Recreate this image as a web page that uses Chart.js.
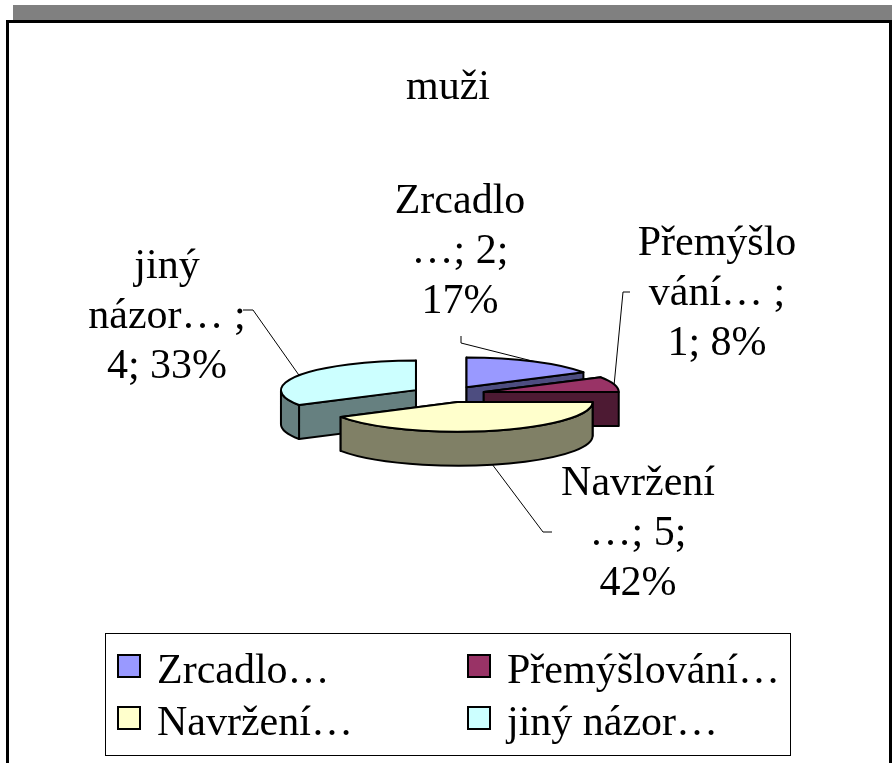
<!DOCTYPE html>
<html>
<head>
<meta charset="utf-8">
<title>muži</title>
<script src="https://cdn.jsdelivr.net/npm/chart.js@4.4.0/dist/chart.umd.min.js"></script>
<style>
  html, body { margin: 0; padding: 0; background: #fff; overflow: hidden; }
  #wrap { position: relative; width: 892px; height: 763px; }
  #shade { position: absolute; left: 13px; top: 5px; width: 879px; height: 16px; background: #808080; }
  #frame { position: absolute; left: 6px; top: 20px; width: 880px; height: 760px; border: 3px solid #000; background: #fff; }
  #chart { position: absolute; left: 0; top: 0; }
</style>
</head>
<body>
<div id="wrap">
  <div id="shade"></div>
  <div id="frame"></div>
  <canvas id="chart" width="892" height="763"></canvas>
</div>
<script>
// Data
const categories = ['Zrcadlo…', 'Přemýšlování…', 'Navržení…', 'jiný názor…'];
const counts = [2, 1, 5, 4];
const percentLabels = ['17%', '8%', '42%', '33%'];
const sliceColors = ['#9999FF', '#993366', '#FFFFCC', '#CCFFFF'];

// Data labels as Excel wrapped them
const labelLines = [
    ['Zrcadlo', '…; ' + counts[0] + ';', percentLabels[0]],
    ['Přemýšlo', 'vání… ;', counts[1] + '; ' + percentLabels[1]],
    ['Navržení', '…; ' + counts[2] + ';', percentLabels[2]],
    ['jiný', 'názor… ;', counts[3] + '; ' + percentLabels[3]]
];

// Layout of the labels: centre x, first baseline, leader start and elbow
const labelLayout = [
    { x: 460, y: 213, from: [461, 336], elbow: [461, 343] },
    { x: 717, y: 255, from: [630, 292], elbow: [623, 292] },
    { x: 638, y: 495, from: [552, 532], elbow: [543, 532] },
    { x: 167, y: 278, from: [243, 310], elbow: [253, 310] }
];

const FONT = '"Liberation Serif", "Times New Roman", serif';
const TILT = 0.22;    // vertical squash of the pie
const DEPTH = 34;     // thickness of the pie
const LINE_GAP = 50;

function darken(hex) {
    const n = parseInt(hex.slice(1), 16);
    const r = (n >> 16) & 255, g = (n >> 8) & 255, b = n & 255;
    return 'rgb(' + Math.round(r / 2) + ',' + Math.round(g / 2) + ',' + Math.round(b / 2) + ')';
}

function sliceGeom(arc) {
    const p = arc.getProps(['x', 'y', 'startAngle', 'endAngle', 'outerRadius'], true);
    const off = arc.options.offset || 0;
    const mid = (p.startAngle + p.endAngle) / 2;
    return {
        cx: p.x + Math.cos(mid) * off,
        cy: p.y + Math.sin(mid) * off * TILT,
        rx: p.outerRadius,
        ry: p.outerRadius * TILT,
        a0: p.startAngle,
        a1: p.endAngle,
        mid: mid
    };
}

function drawSlice(ctx, arc) {
    const g = sliceGeom(arc);
    const top = arc.options.backgroundColor;
    const side = darken(top);
    const edge = a => [g.cx + g.rx * Math.cos(a), g.cy + g.ry * Math.sin(a)];

    ctx.save();
    ctx.lineWidth = 2;
    ctx.strokeStyle = '#000';
    ctx.lineJoin = 'round';

    // cut faces, the back one first
    [g.a0, g.a1].sort((a, b) => Math.sin(a) - Math.sin(b)).forEach(a => {
        const [ex, ey] = edge(a);
        ctx.beginPath();
        ctx.moveTo(g.cx, g.cy);
        ctx.lineTo(ex, ey);
        ctx.lineTo(ex, ey + DEPTH);
        ctx.lineTo(g.cx, g.cy + DEPTH);
        ctx.closePath();
        ctx.fillStyle = side;
        ctx.fill();
        ctx.stroke();
    });

    // outer wall, only the front half shows
    const b0 = Math.max(g.a0, 0), b1 = Math.min(g.a1, Math.PI);
    if (b1 > b0) {
        ctx.beginPath();
        ctx.ellipse(g.cx, g.cy, g.rx, g.ry, 0, b0, b1);
        ctx.ellipse(g.cx, g.cy + DEPTH, g.rx, g.ry, 0, b1, b0, true);
        ctx.closePath();
        ctx.fillStyle = side;
        ctx.fill();
        ctx.stroke();
    }

    // top face
    ctx.beginPath();
    ctx.moveTo(g.cx, g.cy);
    ctx.ellipse(g.cx, g.cy, g.rx, g.ry, 0, g.a0, g.a1);
    ctx.closePath();
    ctx.fillStyle = top;
    ctx.fill();
    ctx.stroke();
    ctx.restore();
}

const pie3d = {
    id: 'pie3d',
    beforeDatasetsDraw(chart) {
        const ctx = chart.ctx;
        const arcs = chart.getDatasetMeta(0).data;
        // paint back to front
        const order = arcs.map((a, i) => i).sort((i, j) =>
            Math.sin(sliceGeom(arcs[i]).mid) - Math.sin(sliceGeom(arcs[j]).mid));
        order.forEach(i => drawSlice(ctx, arcs[i]));
        return false;
    },
    afterDraw(chart) {
        const ctx = chart.ctx;
        const arcs = chart.getDatasetMeta(0).data;
        ctx.save();

        // leader lines
        ctx.strokeStyle = '#000';
        ctx.lineWidth = 1;
        arcs.forEach((arc, i) => {
            const g = sliceGeom(arc);
            const L = labelLayout[i];
            let ex = g.cx + g.rx * Math.cos(g.mid);
            let ey = g.cy + g.ry * Math.sin(g.mid);
            if (Math.sin(g.mid) > 0) ey += DEPTH;
            ctx.beginPath();
            ctx.moveTo(L.from[0], L.from[1]);
            ctx.lineTo(L.elbow[0], L.elbow[1]);
            ctx.lineTo(ex, ey);
            ctx.stroke();
        });

        // data labels
        ctx.fillStyle = '#000';
        ctx.font = '42px ' + FONT;
        ctx.textAlign = 'center';
        ctx.textBaseline = 'alphabetic';
        labelLines.forEach((lines, i) => {
            const L = labelLayout[i];
            lines.forEach((t, j) => ctx.fillText(t, L.x, L.y + j * LINE_GAP));
        });

        // legend box, two columns
        ctx.lineWidth = 1;
        ctx.strokeStyle = '#000';
        ctx.strokeRect(105.5, 633.5, 685, 122);
        const colX = [118, 468];
        const rowY = [655, 707];
        ctx.textAlign = 'left';
        categories.forEach((c, i) => {
            const x = colX[i % 2], y = rowY[Math.floor(i / 2)];
            ctx.fillStyle = sliceColors[i];
            ctx.fillRect(x, y, 22, 22);
            ctx.lineWidth = 2;
            ctx.strokeRect(x, y, 22, 22);
            ctx.fillStyle = '#000';
            ctx.fillText(c, x + 39, y + 28);
        });
        ctx.restore();
    }
};

new Chart(document.getElementById('chart').getContext('2d'), {
    type: 'pie',
    data: {
        labels: categories,
        datasets: [{
            data: counts,
            backgroundColor: sliceColors,
            borderColor: '#000',
            borderWidth: 2,
            offset: 37,
            hoverOffset: 0,
            radius: 135
        }]
    },
    options: {
        responsive: false,
        animation: false,
        events: [],
        layout: { padding: { left: 4, right: 0, top: 0, bottom: 88 } },
        plugins: {
            legend: { display: false },
            tooltip: { enabled: false },
            title: {
                display: true,
                text: 'muži',
                color: '#000',
                font: { family: FONT, size: 42, weight: 'normal' },
                padding: { top: 63, bottom: 0 }
            }
        }
    },
    plugins: [pie3d]
});
</script>
</body>
</html>
